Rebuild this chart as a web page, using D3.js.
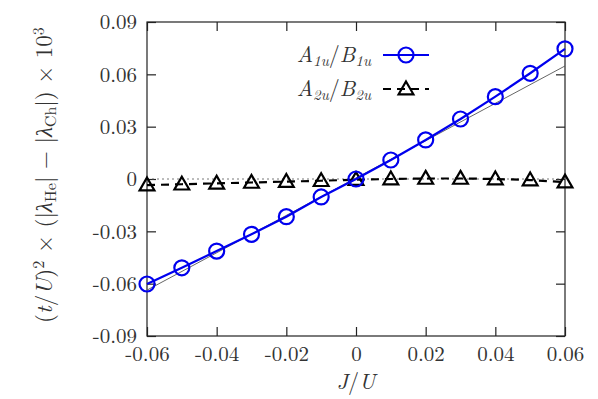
<!DOCTYPE html>
<html>
<head>
<meta charset="utf-8">
<script src="https://cdn.jsdelivr.net/npm/d3@7"></script>
<style>
  body { margin: 0; background: #fff; }
</style>
</head>
<body>
<svg id="chart" width="598" height="399"></svg>
<script>
// J/U values
const jValues = [-0.06, -0.05, -0.04, -0.03, -0.02, -0.01, 0, 0.01, 0.02, 0.03, 0.04, 0.05, 0.06];
// A1u/B1u series (blue circles)
const a1uValues = [-0.0602, -0.0509, -0.0413, -0.0317, -0.0216, -0.0103, 0.0, 0.0109, 0.0224, 0.0344, 0.0472, 0.0606, 0.0746];
// A2u/B2u series (black triangles)
const a2uValues = [-0.0035, -0.003, -0.0025, -0.002, -0.0015, -0.001, -0.0004, 0.0, 0.0003, 0.0003, 0.0, -0.0006, -0.0018];
// thin reference line, endpoints
const refX = [-0.06, 0.06];
const refY = [-0.0637, 0.0648];
// tick labels
const xTicks = [-0.06, -0.04, -0.02, 0, 0.02, 0.04, 0.06];
const yTicks = [-0.09, -0.06, -0.03, 0, 0.03, 0.06, 0.09];

const FONT = "'Latin Modern Roman', 'Liberation Serif'";
const TXT = "#333";
const svg = d3.select("#chart").style("font-family", FONT);

const x = d3.scaleLinear().domain([-0.06, 0.06]).range([147, 565]);
const y = d3.scaleLinear().domain([-0.09, 0.09]).range([336, 22]);

const fmt = d => d === 0 ? "0" : d3.format(".2f")(d).replace("−", "-");

// frame
svg.append("rect")
  .attr("x", x.range()[0]).attr("y", y.range()[1])
  .attr("width", x.range()[1] - x.range()[0])
  .attr("height", y.range()[0] - y.range()[1])
  .attr("fill", "none").attr("stroke", "#222").attr("stroke-width", 1.2);

// axes, ticks inward, mirrored top/right
const tickLen = 9;
const xAxisB = d3.axisBottom(x).tickValues(xTicks).tickSize(-tickLen).tickPadding(10).tickFormat(fmt);
const xAxisT = d3.axisTop(x).tickValues(xTicks).tickSize(-tickLen).tickFormat("");
const yAxisL = d3.axisLeft(y).tickValues(yTicks).tickSize(-tickLen).tickPadding(10).tickFormat(fmt);
const yAxisR = d3.axisRight(y).tickValues(yTicks).tickSize(-tickLen).tickFormat("");

function styleAxis(g) {
  g.attr("font-family", null).attr("font-size", null);
  g.select(".domain").remove();
  g.selectAll(".tick line").attr("stroke", "#222").attr("stroke-width", 1.2);
  g.selectAll(".tick text")
    .style("font-family", FONT)
    .style("font-size", "21px").attr("fill", TXT);
}

svg.append("g").attr("transform", `translate(0,${y.range()[0]})`).call(xAxisB).call(styleAxis);
svg.append("g").attr("transform", `translate(0,${y.range()[1]})`).call(xAxisT).call(styleAxis);
svg.append("g").attr("transform", `translate(${x.range()[0]},0)`).call(yAxisL).call(styleAxis);
svg.append("g").attr("transform", `translate(${x.range()[1]},0)`).call(yAxisR).call(styleAxis);

// zero dotted line
svg.append("line")
  .attr("x1", x(-0.06)).attr("x2", x(0.06))
  .attr("y1", y(0)).attr("y2", y(0))
  .attr("stroke", "#555").attr("stroke-width", 0.8).attr("stroke-dasharray", "2,3");

// thin reference line
svg.append("path")
  .datum(refX.map((v, i) => [v, refY[i]]))
  .attr("d", d3.line().x(d => x(d[0])).y(d => y(d[1])))
  .attr("fill", "none").attr("stroke", "#555").attr("stroke-width", 0.9);

const lineGen = d3.line().x(d => x(d[0])).y(d => y(d[1]));
const blueData = jValues.map((v, i) => [v, a1uValues[i]]);
const blackData = jValues.map((v, i) => [v, a2uValues[i]]);

// A2u dashed line
svg.append("path").datum(blackData).attr("d", lineGen)
  .attr("fill", "none").attr("stroke", "#000").attr("stroke-width", 2.2)
  .attr("stroke-dasharray", "8,6");

const tri = d3.symbol().type(d3.symbolTriangle).size(95);
svg.selectAll(".tri").data(blackData).join("path")
  .attr("class", "tri")
  .attr("transform", d => `translate(${x(d[0])},${y(d[1]) + 1})`)
  .attr("d", tri)
  .attr("fill", "none").attr("stroke", "#000").attr("stroke-width", 2.2);

// A1u solid line
svg.append("path").datum(blueData).attr("d", lineGen)
  .attr("fill", "none").attr("stroke", "#0000ee").attr("stroke-width", 2.2);

svg.selectAll(".circ").data(blueData).join("circle")
  .attr("class", "circ")
  .attr("cx", d => x(d[0])).attr("cy", d => y(d[1]))
  .attr("r", 7.5)
  .attr("fill", "none").attr("stroke", "#0000ee").attr("stroke-width", 2.2);

// helper for text nodes
function txt(parent, size) {
  return parent.append("text").style("font-family", FONT).style("font-size", size + "px").attr("fill", TXT);
}

// legend
function subLabel(g, base1, sub1, base2, sub2, xPos, yPos) {
  const t = txt(g, 22).attr("x", xPos).attr("y", yPos)
    .attr("text-anchor", "end").style("font-style", "italic");
  t.append("tspan").text(base1);
  t.append("tspan").style("font-size", "15px").attr("dy", 4).text(sub1);
  t.append("tspan").attr("dy", -4).style("font-style", "normal").text("/");
  t.append("tspan").text(base2);
  t.append("tspan").style("font-size", "15px").attr("dy", 4).text(sub2);
}
const leg = svg.append("g");
subLabel(leg, "A", "1u", "B", "1u", 371, 62);
subLabel(leg, "A", "2u", "B", "2u", 371, 96);

leg.append("line").attr("x1", 383).attr("x2", 429).attr("y1", 55).attr("y2", 55)
  .attr("stroke", "#0000ee").attr("stroke-width", 2.2);
leg.append("circle").attr("cx", 406).attr("cy", 55).attr("r", 7.5)
  .attr("fill", "none").attr("stroke", "#0000ee").attr("stroke-width", 2.2);
leg.append("line").attr("x1", 383).attr("x2", 429).attr("y1", 89).attr("y2", 89)
  .attr("stroke", "#000").attr("stroke-width", 2.2).attr("stroke-dasharray", "8,6");
leg.append("path").attr("transform", "translate(406,90)").attr("d", tri)
  .attr("fill", "none").attr("stroke", "#000").attr("stroke-width", 2.2);

// x label
const xl = txt(svg, 22).attr("x", 356).attr("y", 389).attr("text-anchor", "middle");
xl.append("tspan").style("font-style", "italic").text("J");
xl.append("tspan").text("/");
xl.append("tspan").style("font-style", "italic").text("U");

// y label
const yl = txt(svg, 23)
  .attr("transform", "translate(52,175) rotate(-90)")
  .attr("text-anchor", "middle");
yl.append("tspan").text("(");
yl.append("tspan").style("font-style", "italic").text("t");
yl.append("tspan").text("/");
yl.append("tspan").style("font-style", "italic").text("U");
yl.append("tspan").text(")");
yl.append("tspan").style("font-size", "16px").attr("dy", -8).text("2");
yl.append("tspan").attr("dy", 8).text(" × (|");
yl.append("tspan").style("font-style", "italic").text("λ");
yl.append("tspan").style("font-size", "16px").attr("dy", 4).text("He");
yl.append("tspan").attr("dy", -4).text("| − |");
yl.append("tspan").style("font-style", "italic").text("λ");
yl.append("tspan").style("font-size", "16px").attr("dy", 4).text("Ch");
yl.append("tspan").attr("dy", -4).text("|) × 10");
yl.append("tspan").style("font-size", "16px").attr("dy", -8).text("3");
</script>
</body>
</html>
